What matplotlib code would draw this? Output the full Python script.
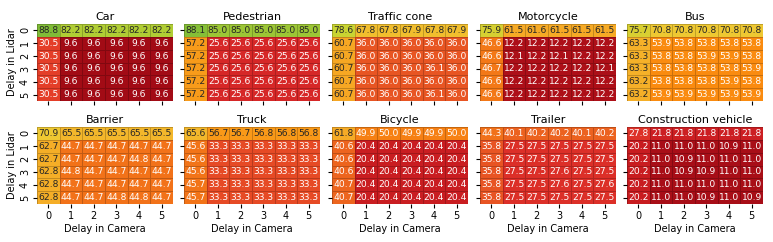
import numpy as np
import matplotlib
matplotlib.use("Agg")
import matplotlib.pyplot as plt
import seaborn as sns
from matplotlib.colors import LinearSegmentedColormap

delays = [0, 1, 2, 3, 4, 5]

classes = ["Car", "Pedestrian", "Traffic cone", "Motorcycle", "Bus",
           "Barrier", "Truck", "Bicycle", "Trailer", "Construction vehicle"]

car = [[88.8, 82.2, 82.2, 82.2, 82.2, 82.2]] + [[30.5, 9.6, 9.6, 9.6, 9.6, 9.6]] * 5
pedestrian = [[88.1, 85.0, 85.0, 85.0, 85.0, 85.0]] + [[57.2, 25.6, 25.6, 25.6, 25.6, 25.6]] * 5
traffic_cone = [
    [78.6, 67.8, 67.8, 67.9, 67.8, 67.9],
    [60.7, 36.0, 36.0, 36.0, 36.0, 36.0],
    [60.7, 36.0, 36.0, 36.0, 36.0, 36.0],
    [60.7, 36.0, 36.0, 36.0, 36.1, 36.0],
    [60.7, 36.0, 36.0, 36.0, 36.0, 36.0],
    [60.7, 36.0, 36.0, 36.0, 36.1, 36.0],
]
motorcycle = [
    [75.9, 61.5, 61.6, 61.5, 61.5, 61.5],
    [46.6, 12.2, 12.2, 12.2, 12.2, 12.2],
    [46.6, 12.1, 12.2, 12.1, 12.2, 12.2],
    [46.7, 12.2, 12.2, 12.2, 12.2, 12.1],
    [46.6, 12.2, 12.2, 12.2, 12.2, 12.2],
    [46.6, 12.2, 12.2, 12.2, 12.2, 12.2],
]
bus = [
    [75.7, 70.8, 70.8, 70.8, 70.8, 70.8],
    [63.3, 53.9, 53.8, 53.8, 53.8, 53.8],
    [63.3, 53.8, 53.8, 53.9, 53.9, 53.8],
    [63.3, 53.8, 53.8, 53.8, 53.8, 53.9],
    [63.2, 53.8, 53.8, 53.8, 53.9, 53.8],
    [63.2, 53.9, 53.9, 53.9, 53.9, 53.9],
]
barrier = [
    [70.9, 65.5, 65.5, 65.5, 65.5, 65.5],
    [62.7, 44.7, 44.7, 44.7, 44.7, 44.7],
    [62.7, 44.7, 44.7, 44.7, 44.8, 44.7],
    [62.8, 44.8, 44.7, 44.7, 44.7, 44.7],
    [62.8, 44.7, 44.7, 44.7, 44.7, 44.7],
    [62.8, 44.7, 44.7, 44.8, 44.8, 44.7],
]
truck = [
    [65.6, 56.7, 56.7, 56.8, 56.8, 56.8],
    [45.6, 33.3, 33.3, 33.3, 33.3, 33.3],
    [45.6, 33.3, 33.3, 33.3, 33.3, 33.3],
    [45.6, 33.3, 33.3, 33.3, 33.3, 33.3],
    [45.7, 33.3, 33.3, 33.3, 33.3, 33.3],
    [45.7, 33.3, 33.3, 33.3, 33.3, 33.3],
]
bicycle = [
    [61.8, 49.9, 50.0, 49.9, 49.9, 50.0],
    [40.6, 20.4, 20.4, 20.4, 20.4, 20.4],
    [40.6, 20.4, 20.4, 20.4, 20.4, 20.4],
    [40.6, 20.4, 20.4, 20.4, 20.4, 20.4],
    [40.7, 20.4, 20.4, 20.4, 20.4, 20.4],
    [40.7, 20.4, 20.4, 20.4, 20.4, 20.4],
]
trailer = [
    [44.3, 40.1, 40.2, 40.2, 40.1, 40.2],
    [35.8, 27.5, 27.5, 27.5, 27.5, 27.5],
    [35.8, 27.5, 27.5, 27.5, 27.5, 27.5],
    [35.8, 27.5, 27.5, 27.6, 27.5, 27.5],
    [35.8, 27.5, 27.5, 27.6, 27.5, 27.6],
    [35.8, 27.5, 27.5, 27.5, 27.5, 27.5],
]
construction_vehicle = [
    [27.8, 21.8, 21.8, 21.8, 21.8, 21.8],
    [20.2, 11.0, 11.0, 11.0, 10.9, 11.0],
    [20.2, 11.0, 10.9, 11.0, 11.0, 11.0],
    [20.2, 11.0, 10.9, 10.9, 11.0, 11.0],
    [20.2, 11.0, 11.0, 11.0, 11.0, 11.0],
    [20.2, 11.0, 11.0, 10.9, 11.0, 10.9],
]

tables = [car, pedestrian, traffic_cone, motorcycle, bus,
          barrier, truck, bicycle, trailer, construction_vehicle]

# red -> orange -> yellow -> green, scaled 0..100
stops = [
    (0.00, (120, 0, 10)),
    (0.10, (165, 12, 22)),
    (0.20, (200, 28, 32)),
    (0.26, (215, 40, 40)),
    (0.30, (228, 60, 40)),
    (0.36, (232, 85, 35)),
    (0.45, (242, 115, 25)),
    (0.54, (250, 140, 15)),
    (0.58, (248, 158, 28)),
    (0.63, (245, 175, 40)),
    (0.71, (238, 200, 50)),
    (0.79, (200, 212, 50)),
    (0.88, (135, 192, 55)),
    (1.00, (50, 150, 50)),
]
cmap = LinearSegmentedColormap.from_list(
    "delay", [(p, tuple(c / 255 for c in rgb)) for p, rgb in stops])

W, H = 773, 242
fig = plt.figure(figsize=(W / 100, H / 100), dpi=100)

lefts = [37, 184, 332, 480, 627]
tops = [24, 127]
aw, ah = 136, 77

for i, (name, tab) in enumerate(zip(classes, tables)):
    r, c = divmod(i, 5)
    ax = fig.add_axes([lefts[c] / W, 1 - (tops[r] + ah) / H, aw / W, ah / H])
    sns.heatmap(np.array(tab), ax=ax, cmap=cmap, vmin=0, vmax=100, cbar=False,
                annot=True, fmt=".1f", annot_kws={"size": 6.6},
                linewidths=0.4, linecolor=(0, 0, 0, 0.2),
                xticklabels=delays, yticklabels=delays)
    ax.set_title(name, fontsize=8, pad=3)
    ax.tick_params(length=3, width=0.8, labelsize=7, pad=2)
    if c == 0:
        ax.set_yticklabels(delays, rotation=90, va="center")
        ax.set_ylabel("Delay in Lidar", fontsize=7, labelpad=2)
    else:
        ax.set_yticklabels([])
    if r == 1:
        ax.set_xticklabels(delays, rotation=0)
        ax.set_xlabel("Delay in Camera", fontsize=7, labelpad=2)
    else:
        ax.set_xticklabels([])

fig.savefig("out.png", dpi=100)
